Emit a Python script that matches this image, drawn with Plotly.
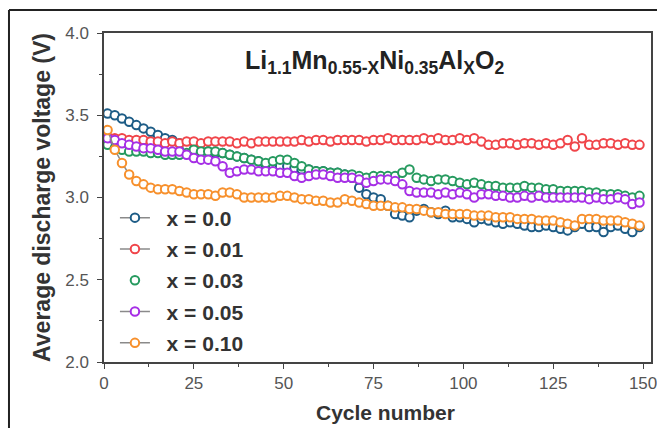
import plotly.graph_objects as go

cycles = list(range(1, 150, 2))

labels = ["x = 0.0", "x = 0.01", "x = 0.03", "x = 0.05", "x = 0.10"]

v_x000 = [3.51, 3.50, 3.48, 3.46, 3.44, 3.42, 3.40, 3.38, 3.36, 3.35,
          3.33, 3.31, 3.29, 3.28, 3.28, 3.27, 3.27, 3.26, 3.25, 3.24,
          3.23, 3.22, 3.20, 3.20, 3.19, 3.19, 3.18, 3.17, 3.17, 3.16,
          3.16, 3.15, 3.15, 3.14, 3.12, 3.06, 3.02, 3.00, 2.99, 2.95,
          2.90, 2.89, 2.88, 2.92, 2.93, 2.91, 2.90, 2.92, 2.88, 2.88,
          2.87, 2.85, 2.87, 2.86, 2.85, 2.84, 2.85, 2.84, 2.83, 2.82,
          2.82, 2.83, 2.82, 2.81, 2.80, 2.82, 2.84, 2.82, 2.82, 2.79,
          2.82, 2.83, 2.81, 2.79, 2.82]

v_x001 = [3.37, 3.36, 3.36, 3.35, 3.35, 3.35, 3.34, 3.34, 3.33, 3.34,
          3.33, 3.34, 3.34, 3.33, 3.34, 3.34, 3.34, 3.34, 3.33, 3.34,
          3.33, 3.34, 3.34, 3.34, 3.34, 3.34, 3.34, 3.35, 3.34, 3.35,
          3.35, 3.34, 3.35, 3.35, 3.35, 3.35, 3.34, 3.35, 3.35, 3.36,
          3.35, 3.35, 3.35, 3.35, 3.36, 3.35, 3.36, 3.35, 3.35, 3.36,
          3.35, 3.36, 3.34, 3.32, 3.32, 3.33, 3.33, 3.32, 3.33, 3.33,
          3.32, 3.33, 3.32, 3.33, 3.35, 3.31, 3.36, 3.32, 3.32, 3.33,
          3.33, 3.32, 3.33, 3.32, 3.32]

v_x003 = [3.32, 3.30, 3.29, 3.28, 3.28, 3.28, 3.27, 3.27, 3.26, 3.26,
          3.26, 3.27, 3.29, 3.28, 3.28, 3.28, 3.27, 3.26, 3.25, 3.24,
          3.23, 3.22, 3.21, 3.22, 3.23, 3.23, 3.21, 3.19, 3.17, 3.16,
          3.16, 3.15, 3.15, 3.14, 3.14, 3.13, 3.12, 3.13, 3.13, 3.13,
          3.13, 3.15, 3.17, 3.12, 3.11, 3.10, 3.11, 3.11, 3.10, 3.09,
          3.08, 3.09, 3.08, 3.07, 3.07, 3.06, 3.06, 3.06, 3.07, 3.06,
          3.06, 3.05, 3.05, 3.04, 3.04, 3.04, 3.04, 3.03, 3.03, 3.02,
          3.02, 3.02, 3.01, 3.00, 3.01]

v_x005 = [3.36, 3.35, 3.33, 3.32, 3.31, 3.30, 3.30, 3.29, 3.28, 3.28,
          3.28, 3.26, 3.24, 3.23, 3.23, 3.22, 3.19, 3.15, 3.16, 3.17,
          3.17, 3.16, 3.16, 3.16, 3.15, 3.15, 3.13, 3.12, 3.13, 3.14,
          3.14, 3.13, 3.12, 3.12, 3.12, 3.11, 3.09, 3.10, 3.11, 3.11,
          3.10, 3.08, 3.04, 3.03, 3.03, 3.03, 3.02, 3.03, 3.02, 3.03,
          3.02, 3.00, 3.02, 3.02, 3.01, 3.01, 3.00, 3.00, 3.01, 3.00,
          3.01, 3.00, 3.00, 3.00, 3.00, 3.00, 3.00, 2.99, 3.00, 2.99,
          2.99, 3.00, 2.99, 2.96, 2.97]

v_x010 = [3.41, 3.29, 3.21, 3.14, 3.10, 3.08, 3.06, 3.05, 3.05, 3.05,
          3.04, 3.03, 3.02, 3.02, 3.02, 3.01, 3.03, 3.03, 3.02, 3.00,
          3.00, 3.00, 3.00, 3.00, 3.01, 3.01, 3.00, 2.99, 2.99, 2.98,
          2.98, 2.97, 2.97, 2.99, 2.98, 2.97, 2.96, 2.95, 2.95, 2.95,
          2.94, 2.94, 2.93, 2.93, 2.92, 2.91, 2.91, 2.90, 2.90, 2.90,
          2.90, 2.89, 2.89, 2.89, 2.88, 2.88, 2.88, 2.87, 2.87, 2.87,
          2.86, 2.86, 2.86, 2.85, 2.84, 2.83, 2.87, 2.87, 2.87, 2.86,
          2.86, 2.86, 2.85, 2.84, 2.83]

series = [v_x000, v_x001, v_x003, v_x005, v_x010]
colors = ["#1d5c86", "#f0454a", "#269a5f", "#a62fe6", "#f7902c"]
modes = ["lines+markers", "lines+markers", "markers", "lines+markers", "lines+markers"]

fig = go.Figure()
for lab, vals, col, md in zip(labels, series, colors, modes):
    fig.add_trace(go.Scatter(
        x=cycles, y=vals, name="\u00a0\u00a0" + lab, mode=md,
        line=dict(color="#8a8a8a", width=1.5),
        marker=dict(symbol="circle", size=8.5, color="white",
                    line=dict(color=col, width=2)),
        legendgroup=lab,
    ))

FONT = "Liberation Sans, Arial"
axis_common = dict(
    showline=True, linecolor="#444444", linewidth=1.5, mirror=True,
    ticks="outside", ticklen=5, tickwidth=1.2, tickcolor="#444444",
    showgrid=False, zeroline=False, automargin=False, ticklabeloverflow="allow",
    tickfont=dict(family=FONT, size=17, color="#555555"),
)

fig.update_xaxes(
    range=[0, 152.2], tickvals=[0, 25, 50, 75, 100, 125, 150],
    minor=dict(tickvals=[12.5, 37.5, 62.5, 87.5, 112.5, 137.5],
               ticks="outside", ticklen=3, tickcolor="#444444"),
    **axis_common,
)
fig.update_yaxes(
    range=[2.0, 4.0], tickvals=[2.0, 2.5, 3.0, 3.5, 4.0],
    ticktext=["2.0", "2.5", "3.0", "3.5", "4.0"],
    minor=dict(tickvals=[2.25, 2.75, 3.25, 3.75], ticks="outside", ticklen=3, tickcolor="#444444"),
    ticklabelstandoff=5,
    title=dict(text="<b>Average discharge voltage (V)</b>", standoff=8,
               font=dict(family=FONT, size=23, color="#333333")),
    **axis_common,
)

# x-axis title
fig.add_annotation(
    text="<b>Cycle number</b>",
    xref="paper", yref="paper", x=0.514, y=-0.152, xanchor="center", yanchor="middle",
    showarrow=False, font=dict(family=FONT, size=21, color="#333333"),
)

fig.add_annotation(
    text="<b>Li<sub>1.1</sub>Mn<sub>0.55-X</sub>Ni<sub>0.35</sub>Al<sub>X</sub>O<sub>2</sub></b>",
    xref="paper", yref="paper", x=0.495, y=0.912, xanchor="center", yanchor="middle",
    showarrow=False, font=dict(family=FONT, size=25, color="#222222"),
)

# outer frame of the figure panel
fig.add_shape(type="line", xref="paper", yref="paper",
              x0=-0.1737, y0=-0.5, x1=-0.1737, y1=1.0699,
              line=dict(color="#222222", width=2))
fig.add_shape(type="line", xref="paper", yref="paper",
              x0=-0.1737, y0=1.0699, x1=1.3, y1=1.0699,
              line=dict(color="#222222", width=2))

fig.update_layout(
    width=657, height=428,
    margin=dict(l=104, r=6, t=33, b=66, autoexpand=False),
    paper_bgcolor="white", plot_bgcolor="white",
    showlegend=True,
    legend=dict(x=0.020, y=0.50, xanchor="left", yanchor="top",
                bgcolor="rgba(0,0,0,0)", borderwidth=0,
                font=dict(family=FONT, size=21, color="#333333", weight="bold"),
                tracegroupgap=1, itemwidth=30),
)

fig.write_html("out.html", config={"displayModeBar": False},
               post_script="document.body.style.margin='0';")
